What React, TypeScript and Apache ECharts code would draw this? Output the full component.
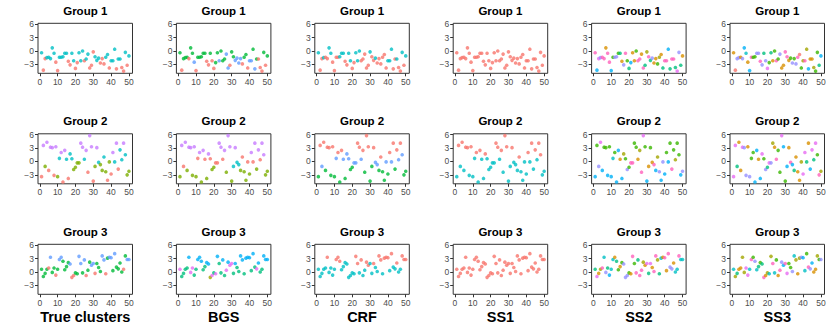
import React, { useEffect, useRef } from "react";
import * as echarts from "echarts";

// Observation values (x = observation index 1..50)
const group1Y = [-0.4,-4.3,-1.7,-1.5,-1.4,-1.7,0.7,-0.5,-2.5,-4.4, -1.4,-1.4,-1.3,-0.5,-0.5,-2.3,-3.1,-0.5,-2.2,-3.9, -2.6,-0.4,-2.2,0,-2.2,-1.8,-0.7,-3.8,-3.2,-0.2, -1.3,-2.1,-1.6,-2.7,-1.7,-2.9,-1.4,-0.8,-3.8,-2.2, -2.2,0.4,-4.0,-1.8,-1.8,-3.7,-4.5,-0.3,-3.2,-1.1];
const group2Y = [-3.4,3.6,-1.1,4.3,-2.0,3.2,3.1,-3.1,3.3,-3.4, 0.7,2.0,-4.6,2.5,0.5,-3.8,1.7,0.6,-1.8,-1.3, -0.3,-0.3,4.1,3.2,0.5,2.5,-2.4,5.8,3.3,-4.4, -1.1,3.1,-0.2,-0.7,-2.0,1.0,-2.3,-4.2,-0.1,-2.8, 2.0,-0.1,4.1,-1.7,2.6,0.4,4.1,1.5,-3.0,-2.2];
const group3Y = [0.6,-1.0,-0.3,0.6,0.9,3.3,-0.1,0.9,-0.7,0.6, 2.8,3.3,2.4,0.5,1.2,2.1,1.8,-1.2,-0.8,-0.2, -0.4,3.5,1.9,-0.2,2.7,-0.8,0.4,2.2,1.5,1.9, -0.3,1.9,1.0,0.1,3.6,2.7,-0.4,3.1,3.3,3.2, 0.3,4.1,1.1,0.7,2.0,0.0,0.6,3.6,2.8,2.8];

const methods = ["True clusters", "BGS", "CRF", "SS1", "SS2", "SS3"];
const groupTitles = ["Group 1", "Group 2", "Group 3"];
const xTicks = [0, 10, 20, 30, 40, 50];
const yTicks = [-3, 0, 3, 6];

// ggplot hue palettes
const hue1 = ["#F8766D"];
const hue2 = ["#F8766D", "#00BFC4"];
const hue3 = ["#F8766D", "#00BA38", "#619CFF"];
const hue4 = ["#F8766D", "#7CAE00", "#00BFC4", "#C77CFF"];
const hue5 = ["#F8766D", "#A3A500", "#00BF7D", "#00B0F6", "#E76BF3"];
const hue10 = ["#F8766D", "#D89000", "#A3A500", "#39B600", "#00BF7D", "#00BFC4", "#00B0F6", "#9590FF", "#E76BF3", "#FF62BC"];

// Cluster labels per panel
const g1True = [1,0,0,1,1,1,1,1,0,0, 1,1,1,1,1,0,0,1,1,0, 0,1,1,1,0,1,1,0,0,0, 1,1,1,0,0,0,1,1,0,1, 1,1,0,1,1,0,0,1,0,1];
const g1BGS = [1,0,1,1,1,0,1,1,2,0, 1,1,1,1,1,0,0,1,0,0, 1,1,2,1,1,1,2,2,0,1, 1,2,2,2,2,0,1,1,0,2, 2,1,2,1,0,0,0,1,0,1];
const g1CRF = [1,0,0,1,0,0,1,1,0,0, 0,0,1,1,1,0,0,1,1,0, 0,1,1,1,0,0,0,0,0,1, 0,0,1,0,0,0,0,0,0,1, 1,1,0,0,1,0,0,1,0,1];
const g1SS1 = [0,0,0,0,0,0,0,0,0,0, 0,0,0,0,0,0,0,0,0,0, 0,0,0,0,0,0,0,0,0,0, 0,0,0,0,0,0,0,0,0,0, 0,0,0,0,0,0,0,0,0,0];
const g1SS2 = [9,6,8,7,9,9,1,9,9,6, 3,7,7,3,4,1,7,9,3,4, 6,1,1,3,9,9,1,9,4,2, 9,4,7,1,1,3,2,1,4,9, 9,6,4,9,9,4,8,7,4,1];
const g1SS3 = [1,0,7,7,1,7,6,5,1,6, 9,3,3,7,7,9,7,4,7,8, 3,4,1,3,9,3,7,1,1,9, 9,1,3,7,3,7,9,0,3,2, 9,2,6,1,1,2,3,3,4,6];

const g2True = [0,3,1,3,0,3,3,0,3,1, 2,3,0,3,2,0,2,2,1,1, 1,1,3,3,2,3,0,3,3,0, 1,3,2,1,1,2,1,0,1,0, 3,2,3,0,2,2,3,2,1,1];
const g2BGS = [1,3,0,3,1,3,3,1,3,1, 0,3,1,3,0,1,3,0,1,1, 0,0,3,3,0,3,1,3,3,1, 2,3,2,2,1,0,1,1,0,1, 3,0,3,1,3,0,3,3,1,1];
const g2CRF = [1,0,2,0,1,0,0,1,0,1, 2,0,1,0,2,1,2,2,1,1, 2,2,0,0,2,0,1,0,0,1, 1,0,2,2,1,0,1,1,2,1, 0,2,0,1,0,2,0,2,1,1];
const g2SS1 = [1,0,1,0,1,0,0,1,0,1, 1,0,1,0,1,1,0,1,1,1, 1,1,0,0,1,0,1,0,0,1, 1,0,1,1,1,0,1,1,1,1, 0,1,0,1,0,1,0,0,1,1];
const g2SS2 = [6,3,7,8,6,3,3,6,3,6, 5,3,6,6,1,6,2,3,7,3, 9,9,3,3,1,2,9,8,3,6, 1,3,1,9,6,2,7,6,7,6, 3,6,3,9,3,2,3,3,6,7];
const g2SS3 = [8,8,4,1,1,8,7,7,1,7, 3,3,6,6,1,6,8,3,7,4, 8,7,2,1,9,3,3,8,6,3, 6,1,9,6,4,1,1,1,2,8, 8,4,1,6,8,4,8,3,9,2];

const g3True = [1,1,1,1,0,2,1,1,0,1, 2,2,1,1,1,1,2,0,0,1, 1,2,2,1,2,0,1,1,2,2, 0,1,1,1,2,2,0,1,2,2, 1,2,1,1,1,1,0,1,2,2];
const g3BGS = [4,2,2,2,2,3,4,4,2,2, 3,3,3,2,2,3,3,1,4,2, 4,3,2,2,3,2,4,3,4,4, 2,3,2,2,3,3,2,3,3,3, 2,3,2,4,3,2,2,3,3,3];
const g3CRF = [1,1,1,1,1,0,1,1,1,1, 0,0,0,1,1,1,1,1,1,1, 1,0,0,1,0,1,1,0,0,1, 1,0,1,1,0,0,1,0,0,0, 1,0,1,1,0,1,1,0,0,0];
const g3SS1 = [0,0,0,0,0,0,0,0,0,0, 0,0,0,0,0,0,0,0,0,0, 0,0,0,0,0,0,0,0,0,0, 0,0,0,0,0,0,0,0,0,0, 0,0,0,0,0,0,0,0,0,0];
const g3SS2 = [4,8,1,2,9,5,7,4,6,5, 5,1,4,3,1,3,7,7,7,3, 1,9,3,9,4,9,9,2,1,8, 4,8,1,9,9,2,4,5,1,9, 1,9,7,7,1,5,5,9,5,5];
const g3SS3 = [5,2,4,1,1,2,2,8,8,5, 9,3,7,5,4,3,4,9,1,2, 5,2,9,5,3,1,9,7,6,9, 8,3,3,7,5,2,1,2,7,6, 5,3,9,7,6,1,1,2,3,7];

const rowsY = [group1Y, group2Y, group3Y];
const rowLabels = [
  [g1True, g1BGS, g1CRF, g1SS1, g1SS2, g1SS3],
  [g2True, g2BGS, g2CRF, g2SS1, g2SS2, g2SS3],
  [g3True, g3BGS, g3CRF, g3SS1, g3SS2, g3SS3],
];
const rowPalettes = [
  [hue2, hue3, hue2, hue1, hue10, hue10],
  [hue4, hue4, hue3, hue2, hue10, hue10],
  [hue3, hue5, hue2, hue1, hue10, hue10],
];

const FONT = "'Liberation Sans', Arial, Helvetica, sans-serif";

function buildOption() {
  const GL = 38, GT = 23.3, DX = 138.4, DY = 110.5, GW = 94.5, GH = 50;
  const grid: any[] = [], xAxis: any[] = [], yAxis: any[] = [], series: any[] = [], title: any[] = [];
  let idx = 0;
  for (let r = 0; r < 3; r++) {
    for (let c = 0; c < 6; c++) {
      const left = GL + c * DX;
      const top = GT + r * DY;
      grid.push({ left, top, width: GW, height: GH, show: true, borderColor: "#333", borderWidth: 1, backgroundColor: "#fff" });
      xAxis.push({
        type: "value", gridIndex: idx, min: -1, max: 52, position: "bottom",
        axisLine: { show: false, onZero: false }, splitLine: { show: false },
        axisTick: { show: true, length: 3, lineStyle: { color: "#333" }, customValues: xTicks },
        axisLabel: { show: true, margin: 4, fontSize: 8.5, color: "#4d4d4d", fontFamily: FONT, customValues: xTicks },
      });
      yAxis.push({
        type: "value", gridIndex: idx, min: -5.0, max: 6.2, position: "left",
        axisLine: { show: false, onZero: false }, splitLine: { show: false },
        axisTick: { show: true, length: 3, lineStyle: { color: "#333" }, customValues: yTicks },
        axisLabel: {
          show: true, margin: 4, fontSize: 8.5, color: "#4d4d4d", fontFamily: FONT, customValues: yTicks,
          formatter: (v: number) => (v < 0 ? "\u2212" + Math.abs(v) : String(v)),
        },
      });
      const ys = rowsY[r];
      const labs = rowLabels[r][c];
      const pal = rowPalettes[r][c];
      series.push({
        type: "scatter", xAxisIndex: idx, yAxisIndex: idx, symbolSize: 3.6, silent: true,
        data: ys.map((y, i) => ({ value: [i + 1, y], itemStyle: { color: pal[labs[i]] } })),
      });
      title.push({
        text: groupTitles[r], left: left + GW / 2, top: top - 18.5, textAlign: "center", padding: 0,
        textStyle: { fontSize: 11.5, fontWeight: "bold", color: "#000", fontFamily: FONT },
      });
      idx++;
    }
  }
  for (let c = 0; c < 6; c++) {
    title.push({
      text: methods[c], left: GL + c * DX + GW / 2, top: 309, textAlign: "center", padding: 0,
      textStyle: { fontSize: 14.5, fontWeight: "bold", color: "#000", fontFamily: FONT },
    });
  }
  return { animation: false, backgroundColor: "#fff", grid, xAxis, yAxis, series, title };
}

export default function App() {
  const ref = useRef<HTMLDivElement>(null);
  useEffect(() => {
    if (!ref.current) return;
    const chart = echarts.init(ref.current, undefined, { renderer: "svg" });
    chart.setOption(buildOption() as any);
    return () => chart.dispose();
  }, []);
  return <div ref={ref} style={{ position: "fixed", left: 0, top: 0, width: 830, height: 332 }} />;
}
